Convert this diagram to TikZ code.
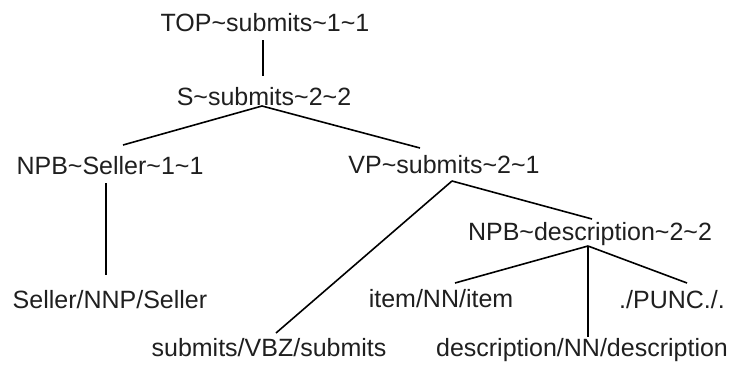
\documentclass[tikz,border=0pt]{standalone}
\usepackage{fontspec}
\setmainfont{Liberation Sans}
\newcommand{\tld}{\char"007E\relax}
\begin{document}
\begin{tikzpicture}[x=1pt,y=-1pt,
  lbl/.style={font=\fontsize{25}{30}\selectfont, inner sep=0pt, anchor=base, text=black!88},
  edge/.style={line width=1.6pt, black}]
\useasboundingbox (0,0) rectangle (731,367);
% nodes
\node[lbl] (top) at (265,31.5) {TOP\tld submits\tld 1\tld 1};
\node[lbl] (s) at (264,105) {S\tld submits\tld 2\tld 2};
\node[lbl] (npbs) at (110,174) {NPB\tld Seller\tld 1\tld 1};
\node[lbl] (vp) at (444,173) {VP\tld submits\tld 2\tld 1};
\node[lbl] (npbd) at (590,240) {NPB\tld description\tld 2\tld 2};
\node[lbl] (seller) at (110,308) {Seller/NNP/Seller};
\node[lbl] (item) at (441,307) {item/NN/item};
\node[lbl] (punc) at (672,308) {./PUNC./.};
\node[lbl] (vbz) at (269,356) {submits/VBZ/submits};
\node[lbl] (desc) at (582,356) {description/NN/description};
% connector end points
\coordinate (top-b) at (263,40);
\coordinate (s-t) at (263,76);
\coordinate (s-b) at (262,106);
\coordinate (npbs-t) at (123,145);
\coordinate (vp-t) at (420,148);
\coordinate (npbs-b) at (106,183);
\coordinate (seller-t) at (106,275);
\coordinate (vp-b) at (452,181);
\coordinate (vbz-t) at (276,333);
\coordinate (npbd-t) at (592,219);
\coordinate (npbd-b) at (588,246);
\coordinate (item-t) at (455,283);
\coordinate (desc-t) at (588,337);
\coordinate (punc-t) at (687,283);
% connectors
\draw[edge] (top-b) -- (s-t);
\draw[edge] (s-b) -- (npbs-t);
\draw[edge] (s-b) -- (vp-t);
\draw[edge] (npbs-b) -- (seller-t);
\draw[edge] (vp-b) -- (vbz-t);
\draw[edge] (vp-b) -- (npbd-t);
\draw[edge] (npbd-b) -- (item-t);
\draw[edge] (npbd-b) -- (desc-t);
\draw[edge] (npbd-b) -- (punc-t);
\end{tikzpicture}
\end{document}
